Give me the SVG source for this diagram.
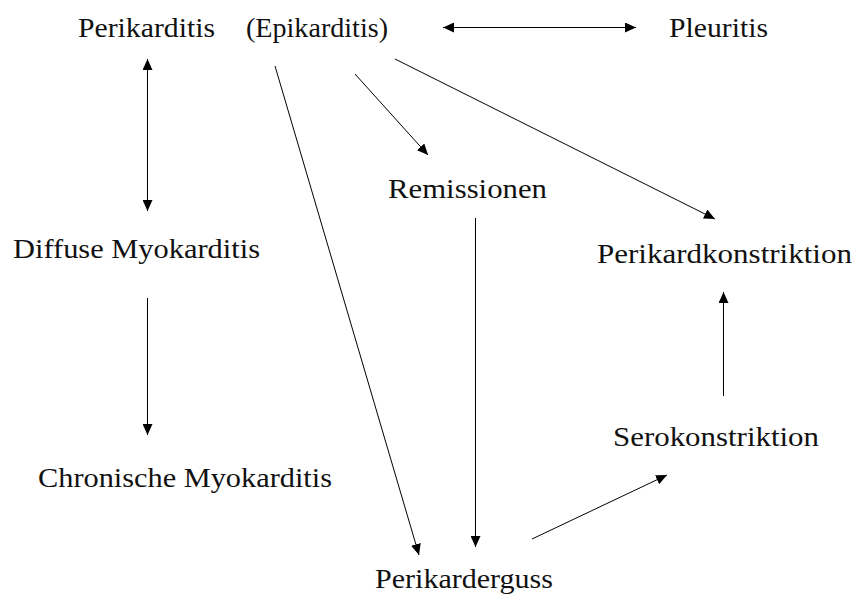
<svg xmlns="http://www.w3.org/2000/svg" width="855" height="599" viewBox="0 0 855 599">
<style>
  text { font-family: "Liberation Serif", "DejaVu Serif", serif; font-size: 28px; fill: #111; }
  .c line { stroke: #000; stroke-width: 1; fill: none; marker-end: url(#ah); }
  .c line.both { marker-start: url(#ahs); }
</style>
<defs>
  <marker id="ah" viewBox="0 0 11 10" refX="11" refY="5" markerWidth="11" markerHeight="10" markerUnits="userSpaceOnUse" orient="auto">
    <path d="M0,0 L11,5 L0,10 Z" fill="#000"/>
  </marker>
  <marker id="ahs" viewBox="0 0 11 10" refX="0" refY="5" markerWidth="11" markerHeight="10" markerUnits="userSpaceOnUse" orient="auto">
    <path d="M11,0 L0,5 L11,10 Z" fill="#000"/>
  </marker>
</defs>
<rect width="855" height="599" fill="#fff"/>
<g id="n-perikarditis"><text x="78" y="37" textLength="137" lengthAdjust="spacingAndGlyphs">Perikarditis</text></g>
<g id="n-epikarditis"><text x="246" y="37" textLength="142" lengthAdjust="spacingAndGlyphs">(Epikarditis)</text></g>
<g id="n-pleuritis"><text x="669" y="37" textLength="99" lengthAdjust="spacingAndGlyphs">Pleuritis</text></g>
<g id="n-remissionen"><text x="388" y="198" textLength="159" lengthAdjust="spacingAndGlyphs">Remissionen</text></g>
<g id="n-perikardkonstriktion"><text x="597" y="263" textLength="255" lengthAdjust="spacingAndGlyphs">Perikardkonstriktion</text></g>
<g id="n-diffuse"><text x="13" y="258" textLength="247" lengthAdjust="spacingAndGlyphs">Diffuse Myokarditis</text></g>
<g id="n-chronische"><text x="38" y="487" textLength="294" lengthAdjust="spacingAndGlyphs">Chronische Myokarditis</text></g>
<g id="n-serokonstriktion"><text x="613" y="446" textLength="206" lengthAdjust="spacingAndGlyphs">Serokonstriktion</text></g>
<g id="n-perikarderguss"><text x="375" y="588" textLength="178" lengthAdjust="spacingAndGlyphs">Perikarderguss</text></g>
<g id="connectors" class="c">
  <line class="both" x1="147.5" y1="59" x2="147.5" y2="211"/>
  <line x1="147.5" y1="298" x2="147.5" y2="435"/>
  <line class="both" x1="443" y1="27.5" x2="636" y2="27.5"/>
  <line x1="275" y1="66" x2="419" y2="555"/>
  <line x1="355" y1="74" x2="428" y2="155"/>
  <line x1="395" y1="59" x2="715" y2="219"/>
  <line x1="475.5" y1="218" x2="475.5" y2="547"/>
  <line x1="532" y1="539" x2="667" y2="475"/>
  <line x1="723.5" y1="396" x2="723.5" y2="292"/>
</g>
</svg>
